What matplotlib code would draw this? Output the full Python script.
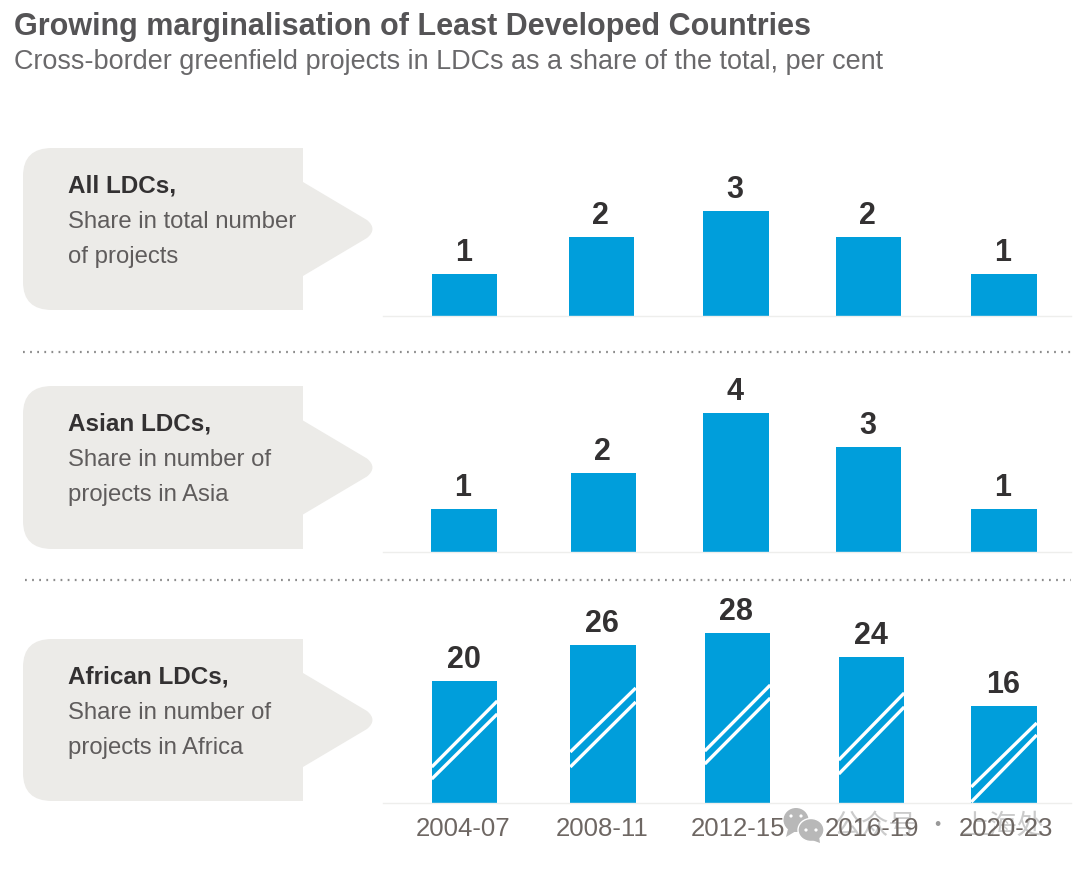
import matplotlib
matplotlib.use("Agg")
import matplotlib.pyplot as plt
from matplotlib.patches import Polygon, Circle, Ellipse, PathPatch
from matplotlib.path import Path

W, H = 1080, 869

periods = ["2004-07", "2008-11", "2012-15", "2016-19", "2020-23"]

# bar heights are a bit off the rounded labels in the two small panels
all_ldc = [1.2, 2.25, 3.0, 2.25, 1.2]
asian_ldc = [1.24, 2.28, 4.0, 3.03, 1.24]
african_ldc = [20, 26, 28, 24, 16]

all_labels = [1, 2, 3, 2, 1]
asian_labels = [1, 2, 4, 3, 1]
african_labels = [20, 26, 28, 24, 16]

# Layout, in pixels
all_x = [464.5, 601.5, 736, 868.5, 1004]
asian_x = [464, 603.5, 736, 868.5, 1004]
african_x = [464.5, 603, 737.5, 871.5, 1004]
period_x = [463.5, 602, 737.5, 872.5, 1005.5]
bar_w = 65.5
BLUE = "#009edb"
GREY = "#ecebe8"
DARK = "#333132"
MID = "#5f5c5c"
SANS = "Liberation Sans"

fig = plt.figure(figsize=(W / 100, H / 100), dpi=100)

# overlay in pixel coordinates for callouts, rules and text
bg = fig.add_axes([0, 0, 1, 1])
bg.set_xlim(0, W)
bg.set_ylim(H, 0)
bg.axis("off")


def add_panel(xs, values, labels, base, scale):
    """One bar panel, base = baseline pixel, scale = pixels per unit."""
    ax = fig.add_axes([383 / W, 1 - base / H, (1071 - 383) / W, 215 / H])
    ax.patch.set_alpha(0)
    ax.set_xlim(383, 1071)
    ax.set_ylim(0, 215 / scale)
    ax.bar(xs, values, width=bar_w, color=BLUE, linewidth=0)
    for x, v, lab in zip(xs, values, labels):
        ax.annotate(str(lab), (x - 1, v), xytext=(0, 6), textcoords="offset pixels",
                    ha="center", va="bottom", fontsize=22, fontweight="bold",
                    family=SANS, color=DARK)
    for s in ["top", "left", "right"]:
        ax.spines[s].set_visible(False)
    ax.spines["bottom"].set_color("#eeeeec")
    ax.spines["bottom"].set_linewidth(1)
    ax.set_yticks([])
    ax.set_xticks([])
    return ax


def add_callout(top, bottom, title, line1, line2):
    mid = (top + bottom) / 2
    verts = [(52, top), (303, top), (303, mid - 47), (367, mid - 9),
             (378, mid), (367, mid + 9), (303, mid + 47), (303, bottom),
             (52, bottom), (23, bottom), (23, bottom - 28), (23, top + 28),
             (23, top), (52, top), (52, top)]
    codes = [Path.MOVETO, Path.LINETO, Path.LINETO, Path.LINETO,
             Path.CURVE3, Path.CURVE3, Path.LINETO, Path.LINETO,
             Path.LINETO, Path.CURVE3, Path.CURVE3, Path.LINETO,
             Path.CURVE3, Path.CURVE3, Path.CLOSEPOLY]
    bg.add_patch(PathPatch(Path(verts, codes), facecolor=GREY, edgecolor="none"))
    bg.text(68, top + 38, title, fontsize=17.5, fontweight="bold", family=SANS,
            color=DARK, va="center")
    bg.text(68, top + 74, line1, fontsize=17.2, family=SANS, color=MID, va="center")
    bg.text(68, top + 109, line2, fontsize=17.2, family=SANS, color=MID, va="center")


bg.text(14, 27, "Growing marginalisation of Least Developed Countries", fontsize=22,
        fontweight="bold", family=SANS, color="#555456", va="center")
bg.text(14, 62, "Cross-border greenfield projects in LDCs as a share of the total, per cent",
        fontsize=19.45, family=SANS, color="#6a696b", va="center")

add_callout(148, 310, "All LDCs,", "Share in total number", "of projects")
add_callout(386, 549, "Asian LDCs,", "Share in number of", "projects in Asia")
add_callout(639, 801, "African LDCs,", "Share in number of", "projects in Africa")

for y, x0 in [(351.5, 23), (579.5, 25)]:
    bg.plot([x0, 1071], [y, y], color="#8c8c8c", lw=1.6, ls=(0, (0.8, 2.4)))

add_panel(all_x, all_ldc, all_labels, 315.5, 34.7)
add_panel(asian_x, asian_ldc, asian_labels, 552, 34.7)
add_panel(african_x, african_ldc, african_labels, 803, 6.08)

# white double stripes across the African bars (pixel y at bar's left and right edge)
stripe_upper = [(767, 701), (752, 688), (751, 685), (760, 693), (787, 723)]
stripe_lower = [(779, 714), (767, 702), (764, 698), (774, 707), (802, 735)]
top_layer = fig.add_axes([0, 0, 1, 1])
top_layer.set_xlim(0, W)
top_layer.set_ylim(H, 0)
top_layer.axis("off")
for x, up, lo in zip(african_x, stripe_upper, stripe_lower):
    for y0, y1 in (up, lo):
        top_layer.plot([x - bar_w / 2, x + bar_w / 2], [y0, y1], color="white",
                       lw=2.4, solid_capstyle="butt")

# faint watermark, sits under the period labels
CJK = ["Noto Sans CJK SC", "DejaVu Sans"]
wm = "#b8b8b8"
top_layer.add_patch(Ellipse((796, 820), 25, 24, color=wm, lw=0))
top_layer.add_patch(Polygon([(788, 829), (786, 837), (796, 831)], color=wm, lw=0))
top_layer.add_patch(Ellipse((811, 830), 26, 23, facecolor=wm, edgecolor="white", lw=1))
top_layer.add_patch(Polygon([(812, 840), (820, 843), (819, 836)], color=wm, lw=0))
for cx, cy in [(791, 816), (801, 816), (806, 830), (816, 830)]:
    top_layer.add_patch(Circle((cx, cy), 1.6, color="white", lw=0))
top_layer.text(875, 826, "公众号", fontsize=20, family=CJK, color="#999999",
               alpha=0.5, ha="center", va="center")
top_layer.text(937, 825, "·", fontsize=16, family=CJK, color="#999999",
               ha="center", va="center")
top_layer.text(1003, 826, "上海处", fontsize=20, family=CJK, color="#999999",
               alpha=0.5, ha="center", va="center")

# period labels under the last panel
for x, p in zip(period_x, periods):
    top_layer.text(x, 829, p, fontsize=18.5, family=SANS, color="#6e6763",
                   ha="center", va="center")

fig.savefig("out.png", dpi=100)
